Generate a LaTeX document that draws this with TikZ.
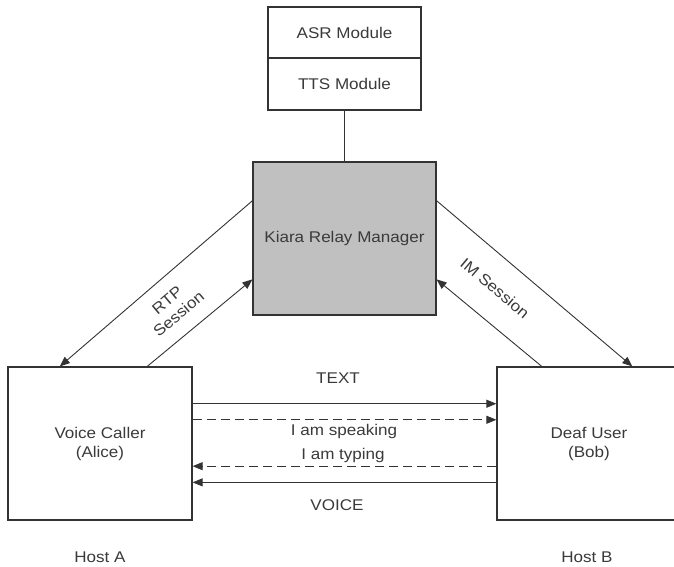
\documentclass[tikz,border=0pt]{standalone}
\usepackage{fontspec}
\setmainfont[FakeStretch=1.1]{Liberation Sans}
\usetikzlibrary{arrows.meta,calc}
\definecolor{ln}{HTML}{333333}
\definecolor{tx}{HTML}{3A3A3A}
\definecolor{kfill}{HTML}{C0C0C0}
\begin{document}
\begin{tikzpicture}[x=1pt,y=-1pt,
  box/.style={draw=ln,line width=1.2pt,rectangle,inner sep=0pt,text=tx,align=center,font=\fontsize{15.5}{19}\selectfont},
  lbl/.style={text=tx,font=\fontsize{15.5}{18}\selectfont,inner sep=1pt,align=center},
  arr/.style={draw=ln,line width=0.9pt,-{Triangle[length=10pt,width=8pt]}},
  dsh/.style={arr,dash pattern=on 9pt off 5pt}]
\useasboundingbox (0,0) rectangle (674,566);
\begin{scope}
\clip (0,0) rectangle (674,566);
\node[box,minimum width=153pt,minimum height=51pt] (asr) at (344.5,32.5) {ASR Module};
\node[box,minimum width=153pt,minimum height=52pt] (tts) at (344.5,84) {TTS Module};
\node[box,fill=kfill,minimum width=183pt,minimum height=153pt] (kiara) at (344.5,238.5) {Kiara Relay Manager};
\node[box,minimum width=184pt,minimum height=153pt] (alice) at (100,443.5) {Voice Caller\\(Alice)};
\node[box,minimum width=184pt,minimum height=153pt] (bob) at (589,443.5) {Deaf User\\(Bob)};
\end{scope}
\draw[ln,line width=1.2pt] (tts.south) -- (kiara.north);
% RTP
\draw[arr] ($(kiara.north west)!0.255!(kiara.south west)$) -- ($(alice.north west)!0.283!(alice.north east)$);
\draw[arr] ($(alice.north west)!0.755!(alice.north east)$) -- ($(kiara.north west)!0.765!(kiara.south west)$);
% IM
\draw[arr] ($(kiara.north east)!0.255!(kiara.south east)$) -- ($(bob.north west)!0.734!(bob.north east)$);
\draw[arr] ($(bob.north west)!0.245!(bob.north east)$) -- ($(kiara.north east)!0.765!(kiara.south east)$);
\node[lbl,rotate=40] (rtp) at (173,307) {RTP\\Session};
\node[lbl,rotate=-40] (im) at (495,288) {IM Session};
% horizontal
\draw[arr] ($(alice.north east)!0.242!(alice.south east)$) -- ($(bob.north west)!0.242!(bob.south west)$);
\draw[dsh] ($(alice.north east)!0.346!(alice.south east)$) -- ($(bob.north west)!0.346!(bob.south west)$);
\draw[dsh] ($(bob.north west)!0.647!(bob.south west)$) -- ($(alice.north east)!0.647!(alice.south east)$);
\draw[arr] ($(bob.north west)!0.752!(bob.south west)$) -- ($(alice.north east)!0.752!(alice.south east)$);
\node[lbl] (t1) at (338,378) {TEXT};
\node[lbl] (t2) at (344,431) {I am speaking};
\node[lbl] (t3) at (343,455) {I am typing};
\node[lbl] (t4) at (337,505) {VOICE};
\node[lbl] (ha) at (100,557) {Host A};
\node[lbl] (hb) at (587,557) {Host B};
\end{tikzpicture}
\end{document}
